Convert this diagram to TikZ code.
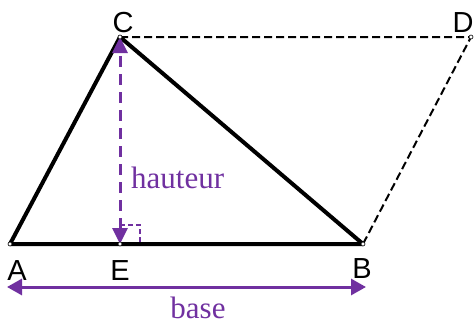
\documentclass[tikz,border=0pt]{standalone}
\usepackage{fontspec}
\setmainfont{Liberation Serif}
\newfontfamily\labfont{Liberation Sans}
\usetikzlibrary{arrows.meta}
\definecolor{vio}{RGB}{112,48,160}
\begin{document}
\begin{tikzpicture}[x=1pt,y=-1pt,
  side/.style={line width=4pt,line join=round,line cap=round},
  dashside/.style={line width=2pt,dash pattern=on 8pt off 4pt},
  hgt/.style={vio,line width=3pt,dash pattern=on 11pt off 7pt,
     {Triangle[length=16pt,width=15pt]}-{Triangle[length=16pt,width=15pt]}},
  basearrow/.style={vio,line width=3pt,
     {Triangle[length=15pt,width=16pt]}-{Triangle[length=15pt,width=16pt]}},
  rightmark/.style={vio,line width=2pt,dash pattern=on 5pt off 3pt},
  vlab/.style={font=\labfont\fontsize{29}{31}\selectfont,anchor=base,inner sep=0pt},
  plab/.style={vio,font=\fontsize{31}{33}\selectfont,inner sep=0pt},
  vdot/.style={circle,draw=black,fill=white,line width=0.6pt,minimum size=4pt,inner sep=0pt}
]
\useasboundingbox (0,0) rectangle (475,325);
\coordinate (A) at (10,244);
\coordinate (B) at (363,244);
\coordinate (C) at (120,37);
\coordinate (D) at (471,37);
\coordinate (E) at (120,244);
\coordinate (R1) at (120,225);
\coordinate (R2) at (140,225);
\coordinate (R3) at (140,244);
\coordinate (L) at (7,287);
\coordinate (R) at (366,287);

\draw[dashside] (C) -- (D) -- (B);
\draw[rightmark] (R1) -- (R2) -- (R3);
\draw[side] (A) -- (B) -- (C) -- cycle;
\draw[hgt] (E) -- (C);
\draw[basearrow] (L) -- (R);

\foreach \p in {A,B,C,D,E} \node[vdot] at (\p) {};

\node[vlab] (lC) at (123,32) {C};
\node[vlab] (lD) at (463,32) {D};
\node[vlab] (lA) at (17,280) {A};
\node[vlab] (lE) at (120,280) {E};
\node[vlab] (lB) at (362,278) {B};
\node[plab,anchor=base west] (h) at (131,188) {hauteur};
\node[plab,anchor=base] (b) at (198,318) {base};
\end{tikzpicture}
\end{document}
